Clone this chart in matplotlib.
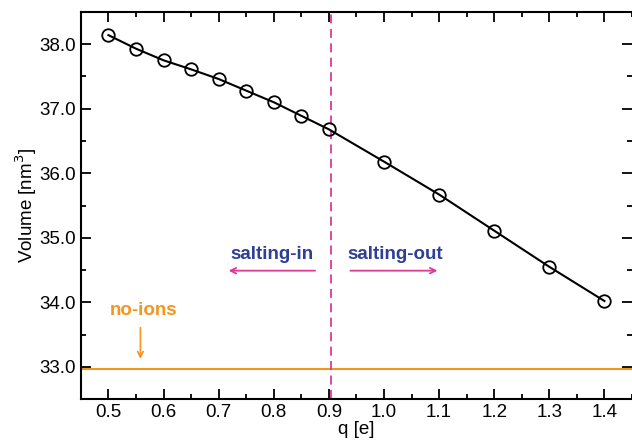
import numpy as np
import matplotlib
matplotlib.use("Agg")
import matplotlib.pyplot as plt
from matplotlib.ticker import MultipleLocator

plt.rcParams['font.family'] = ['Liberation Sans', 'DejaVu Sans']

q = [0.5, 0.55, 0.6, 0.65, 0.7, 0.75, 0.8, 0.85, 0.9, 1.0, 1.1, 1.2, 1.3, 1.4]
volume = [38.14, 37.93, 37.75, 37.61, 37.46, 37.28, 37.10, 36.89, 36.68,
          36.18, 35.67, 35.11, 34.55, 34.02]
no_ions = 32.97
q_crit = 0.903

orange = "#f7941d"
magenta = "#dd3a96"
blue = "#2e3f96"

fig = plt.figure(figsize=(6.32, 4.41), dpi=100)
ax = fig.add_axes([0.128, 0.095, 0.872, 0.878])

ax.axhline(no_ions, color=orange, lw=1.5, zorder=1)
ax.axvline(q_crit, color=magenta, lw=1.3, ls=(0, (5, 3)), zorder=1)
ax.plot(q, volume, color="black", lw=1.5, marker="o", ms=9, mfc="none",
        mec="black", mew=1.3, zorder=3)

# annotations
ax.annotate("", xy=(0.713, 34.49), xytext=(0.88, 34.49),
            arrowprops=dict(arrowstyle="->", color=magenta, lw=1.3))
ax.annotate("", xy=(1.102, 34.49), xytext=(0.934, 34.49),
            arrowprops=dict(arrowstyle="->", color=magenta, lw=1.3))
ax.text(0.797, 34.74, "salting-in", color=blue, fontsize=13.5,
        fontweight="bold", ha="center", va="center")
ax.text(1.02, 34.74, "salting-out", color=blue, fontsize=13.5,
        fontweight="bold", ha="center", va="center")
ax.annotate("", xy=(0.558, 33.08), xytext=(0.558, 33.65),
            arrowprops=dict(arrowstyle="->", color=orange, lw=1.2))
ax.text(0.563, 33.88, "no-ions", color=orange, fontsize=13.5,
        fontweight="bold", ha="center", va="center")

ax.set_xlim(0.45, 1.45)
ax.set_ylim(32.5, 38.5)
ax.xaxis.set_major_locator(MultipleLocator(0.1))
ax.xaxis.set_minor_locator(MultipleLocator(0.05))
ax.yaxis.set_major_locator(MultipleLocator(1.0))
ax.yaxis.set_minor_locator(MultipleLocator(0.5))
ax.xaxis.set_major_formatter(plt.FormatStrFormatter("%.1f"))
ax.yaxis.set_major_formatter(plt.FormatStrFormatter("%.1f"))

ax.tick_params(which="both", direction="in", top=True, right=True,
               width=1.3, labelsize=13.5)
ax.tick_params(which="major", length=7)
ax.tick_params(which="minor", length=3.5)
for s in ax.spines.values():
    s.set_linewidth(1.5)
ax.spines["right"].set_visible(False)

ax.set_xlabel("q [e]", fontsize=13.5, labelpad=0)
ax.set_ylabel("Volume [nm$^3$]", fontsize=13.5, labelpad=0)

fig.savefig("out.png", dpi=100)
